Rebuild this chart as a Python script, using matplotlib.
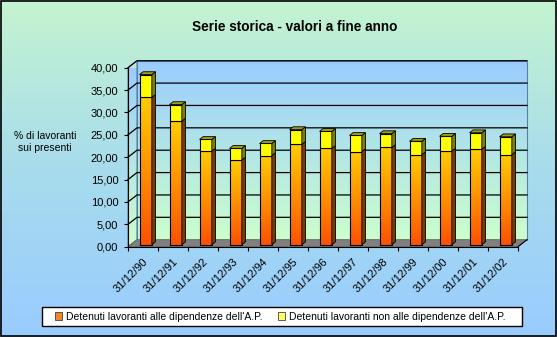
import numpy as np
import matplotlib
matplotlib.use('agg')
import matplotlib.pyplot as plt
import matplotlib.transforms as mtransforms
from matplotlib.patches import Polygon, Rectangle, Patch
from matplotlib.colors import LinearSegmentedColormap

plt.rcParams['font.family'] = ['Liberation Sans', 'DejaVu Sans']

# data
years = ['31/12/90', '31/12/91', '31/12/92', '31/12/93', '31/12/94', '31/12/95', '31/12/96',
         '31/12/97', '31/12/98', '31/12/99', '31/12/00', '31/12/01', '31/12/02']
alle_dip = [32.9, 27.6, 20.9, 18.9, 19.9, 22.4, 21.5, 20.8, 21.7, 20.1, 20.9, 21.3, 20.1]
non_alle_dip = [5.1, 3.7, 2.6, 2.6, 2.7, 3.3, 3.8, 3.6, 3.1, 3.0, 3.3, 3.7, 4.0]
yticks = [0, 5, 10, 15, 20, 25, 30, 35, 40]

title = 'Serie storica - valori a fine anno'
ylabel = '% di lavoranti\nsui presenti'
legend_labels = ["Detenuti lavoranti alle dipendenze dell'A.P.",
                 "Detenuti lavoranti non alle dipendenze dell'A.P."]

DEPTH = np.array([9.0, 7.0])   # pixel offset of the back wall
W = 0.41

fig = plt.figure(figsize=(5.57, 3.37), dpi=100)

# outer background gradient
bg = fig.add_axes([0, 0, 1, 1], zorder=0)
bg_cmap = LinearSegmentedColormap.from_list('bg', ['#99CCFF', '#A8DCEC', '#C4F4D0'])
bg.imshow(np.linspace(0, 1, 256).reshape(-1, 1), cmap=bg_cmap, origin='lower',
          extent=(0, 1, 0, 1), aspect='auto')
bg.add_patch(Rectangle((0.001, 0.002), 0.997, 0.996, fill=False, edgecolor='black', lw=1.2))
# legend frame (box is wider than its content in the original)
bg.add_patch(Rectangle((42 / 557, 1 - 326 / 337), 480 / 557, 19 / 337, facecolor='white',
                       edgecolor='black', lw=1.0, zorder=5))
bg.set_xlim(0, 1)
bg.set_ylim(0, 1)
bg.axis('off')

ax = fig.add_axes([128 / 557, (337 - 246.7) / 337, 390 / 557, 179 / 337], zorder=1)
ax.patch.set_visible(False)
ax.set_xlim(-0.5, len(years) - 0.5)
ax.set_ylim(0, 40)


def shift(t):
    return ax.transData + mtransforms.Affine2D().translate(DEPTH[0] * t, DEPTH[1] * t)


def P(x, v, t):
    return ax.transData.transform((x, v)) + DEPTH * t


ident = mtransforms.IdentityTransform()
wall_cmap = LinearSegmentedColormap.from_list('wall', ['#CCFFCC', '#99CCFF'])
grad = np.linspace(0, 1, 256).reshape(-1, 1)
x0, x1 = -0.5, len(years) - 0.5

# back wall
im = ax.imshow(grad, cmap=wall_cmap, origin='lower', extent=(x0, x1, 0, 40),
               aspect='auto', zorder=0.5, clip_on=False)
im.set_transform(shift(1))
ax.add_patch(Rectangle((x0, 0), x1 - x0, 40, transform=shift(1), fill=False,
                       edgecolor='#5B7FA6', lw=0.8, zorder=0.6, clip_on=False))

# side wall
side = Polygon([P(x0, 0, 0), P(x0, 40, 0), P(x0, 40, 1), P(x0, 0, 1)], closed=True,
               transform=ident, facecolor='none', edgecolor='#5B7FA6', lw=0.8,
               zorder=0.6, clip_on=False)
ax.add_patch(side)
im2 = ax.imshow(grad, cmap=wall_cmap, origin='lower', extent=(x0, x0 + 0.5, 0, 41.5),
                aspect='auto', zorder=0.5)
im2.set_clip_path(side)

# gridlines
for v in yticks[1:]:
    pts = np.array([P(x0, v, 0), P(x0, v, 1), P(x1, v, 1)])
    ax.plot(pts[:, 0], pts[:, 1], color='black', lw=0.9, transform=ident,
            zorder=1, clip_on=False)

# floor
ax.add_patch(Polygon([P(x0, 0, 0), P(x1, 0, 0), P(x1, 0, 1), P(x0, 0, 1)], closed=True,
                     transform=ident, facecolor='#808080', edgecolor='#606060', lw=0.6,
                     zorder=1.5, clip_on=False))

# bars
xs = np.arange(len(years))
tops = np.array(alle_dip) + np.array(non_alle_dip)
bar_cmap = LinearSegmentedColormap.from_list('bar', ['#FF5000', '#FF9000', '#FFCC00'])
for i in xs:
    gi = ax.imshow(grad, cmap=bar_cmap, origin='lower',
                   extent=(i - W / 2, i + W / 2, 0, alle_dip[i]), aspect='auto',
                   zorder=3, clip_on=False)
    gi.set_transform(shift(0.3))
ax.bar(xs, alle_dip, W, transform=shift(0.3), fill=False, edgecolor='black', lw=0.8,
       zorder=4, clip_on=False)
ax.bar(xs, non_alle_dip, W, bottom=alle_dip, transform=shift(0.3), color='#FFFF00',
       edgecolor='black', lw=0.8, zorder=4, clip_on=False)

for i in xs:
    xr = i + W / 2
    segs = [(0, alle_dip[i], '#7A3C06'), (alle_dip[i], tops[i], '#7F7F00')]
    for y0, y1, c in segs:
        ax.add_patch(Polygon([P(xr, y0, 0.3), P(xr, y1, 0.3), P(xr, y1, 0.7), P(xr, y0, 0.7)],
                             closed=True, transform=ident, facecolor=c, edgecolor='black',
                             lw=0.6, zorder=4, clip_on=False))
    ax.add_patch(Polygon([P(i - W / 2, tops[i], 0.3), P(xr, tops[i], 0.3),
                          P(xr, tops[i], 0.7), P(i - W / 2, tops[i], 0.7)],
                         closed=True, transform=ident, facecolor='#9E9E1E', edgecolor='black',
                         lw=0.6, zorder=4, clip_on=False))

# right end of floor edge
pts = np.array([P(x1, 0, 0), P(x1, 0, 1)])
ax.plot(pts[:, 0], pts[:, 1], color='black', lw=0.8, transform=ident, zorder=2, clip_on=False)

# axes
for s in ['top', 'right']:
    ax.spines[s].set_visible(False)
for s in ['left', 'bottom']:
    ax.spines[s].set_color('black')
    ax.spines[s].set_linewidth(0.8)
    ax.spines[s].set_zorder(2)
ax.set_yticks(yticks)
ax.set_yticklabels([('%.2f' % v).replace('.', ',') for v in yticks], fontsize=8)
ax.tick_params(axis='y', length=3, width=0.8, pad=4, colors='black')
ax.set_xticks(xs)
ax.set_xticklabels(years, rotation=45, ha='right', rotation_mode='anchor', fontsize=8)
ax.set_xticks(np.arange(x0, x1 + 0.1, 1), minor=True)
ax.tick_params(axis='x', which='major', length=0, pad=7)
ax.tick_params(axis='x', which='minor', length=3, width=0.8)

fig.text(295 / 557, 1 - 27 / 337, title, ha='center', va='center', fontsize=9.8,
         fontweight='bold')
fig.text(45 / 557, 1 - 142 / 337, ylabel, ha='center', va='center', fontsize=7.5,
         multialignment='center', linespacing=1.35)

handles = [Patch(facecolor='#F0882A', edgecolor='#404040', lw=0.6),
           Patch(facecolor='#FFFF66', edgecolor='#404040', lw=0.6)]
leg = fig.legend(handles, legend_labels, loc='center', ncol=2,
                 bbox_to_anchor=(280 / 557, (337 - 316.5) / 337),
                 fontsize=7.5, frameon=False, handlelength=0.7, handleheight=0.7,
                 handletextpad=0.35, borderpad=0.2, borderaxespad=0, columnspacing=1.5)
leg.set_zorder(10)

fig.savefig('out.png', dpi=100)
